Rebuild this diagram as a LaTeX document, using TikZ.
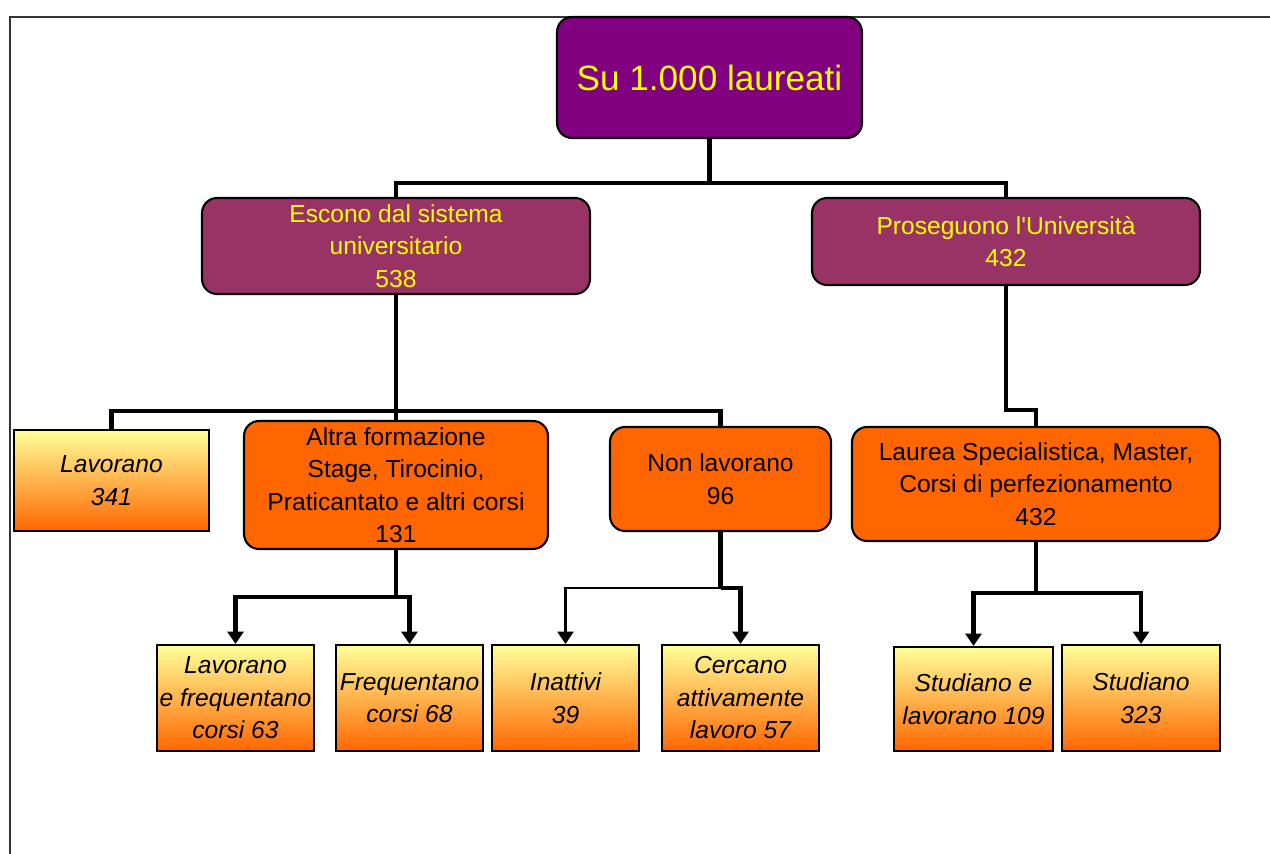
\documentclass[tikz,border=0pt]{standalone}
\usepackage{fontspec}
\setmainfont{Liberation Sans}
\usetikzlibrary{arrows.meta}
\definecolor{rootpurple}{HTML}{800080}
\definecolor{branchrose}{HTML}{993366}
\definecolor{boxorange}{HTML}{FF6600}
\definecolor{paleyellow}{HTML}{FFFF99}
\definecolor{txtyellow}{HTML}{FFFF00}
\tikzset{
  rootbox/.style={draw, line width=1.2pt, rounded corners=0.3cm, fill=rootpurple,
    text=txtyellow, font=\fontsize{20}{24}\selectfont, align=center, inner sep=0pt},
  branchbox/.style={draw, line width=1.2pt, rounded corners=0.3cm, fill=branchrose,
    text=txtyellow, font=\fontsize{14}{18.5}\selectfont, align=center, inner sep=0pt},
  orangebox/.style={draw, line width=1.2pt, rounded corners=0.3cm, fill=boxorange,
    text=black, font=\fontsize{14}{18.5}\selectfont, align=center, inner sep=0pt},
  leafbox/.style={draw, line width=1.2pt, top color=paleyellow, bottom color=boxorange,
    font=\itshape\fontsize{14}{18.5}\selectfont, align=center, inner sep=0pt},
  conn/.style={line width=2.8pt},
  thinconn/.style={line width=1.6pt},
  arr/.style={-{Triangle[width=9pt,length=7pt]}}
}
\begin{document}
\begin{tikzpicture}[x=0.02cm, y=-0.02cm]
\useasboundingbox (0,0) rectangle (1270,854);
\draw[line width=0.9pt, black!80] (10,854)--(10,17)--(1270,17);
% boxes
\node[rootbox, minimum width=6.1cm, minimum height=2.42cm] (root) at (709.5,77.5) {Su 1.000 laureati};
\node[branchbox, minimum width=7.76cm, minimum height=1.92cm] (esc) at (396,246) {Escono dal sistema\\universitario\\538};
\node[branchbox, minimum width=7.76cm, minimum height=1.74cm] (pros) at (1006,241.5) {Proseguono l\textquotesingle Università\\432};
\node[leafbox, minimum width=3.9cm, minimum height=2.02cm] (lav) at (111.5,480.5) {Lavorano\\341};
\node[orangebox, minimum width=6.08cm, minimum height=2.56cm] (altra) at (396,485) {Altra formazione\\Stage, Tirocinio,\\Praticantato e altri corsi\\131};
\node[orangebox, minimum width=4.42cm, minimum height=2.08cm] (nonlav) at (720.5,479) {Non lavorano\\96};
\node[orangebox, minimum width=7.36cm, minimum height=2.28cm] (laurea) at (1036,484) {Laurea Specialistica, Master,\\Corsi di perfezionamento\\432};
\node[leafbox, minimum width=3.14cm, minimum height=2.12cm] (lavfreq) at (235.5,698) {Lavorano\\e frequentano\\corsi 63};
\node[leafbox, minimum width=2.94cm, minimum height=2.12cm] (freq) at (409.5,698) {Frequentano\\corsi 68};
\node[leafbox, minimum width=2.94cm, minimum height=2.12cm] (inatt) at (565.5,698) {Inattivi\\39};
\node[leafbox, minimum width=3.14cm, minimum height=2.12cm] (cerc) at (740.5,698) {Cercano\\attivamente\\lavoro 57};
\node[leafbox, minimum width=3.18cm, minimum height=2.08cm] (stlav) at (973.5,699) {Studiano e\\lavorano 109};
\node[leafbox, minimum width=3.16cm, minimum height=2.12cm] (stud) at (1141,698) {Studiano\\323};
% junctions
\coordinate (j1) at (709.5,183);
\coordinate (j2) at (396,411);
\coordinate (j3) at (1006,410);
\coordinate (j4) at (396,597);
\coordinate (j5) at (720.5,588);
\coordinate (j6) at (1036,593);
% connectors
\draw[conn] (root.south)--(j1) -| (esc.north);
\draw[conn] (j1) -| (pros.north);
\draw[conn] (esc.south)--(altra.north);
\draw[conn] (j2) -| (lav.north);
\draw[conn] (j2) -| (nonlav.north);
\draw[conn] (pros.south)--(j3) -| (laurea.north);
\draw[conn] (altra.south)--(j4);
\draw[conn, arr] (j4) -| (lavfreq.north);
\draw[conn, arr] (j4) -| (freq.north);
\draw[conn] (nonlav.south)--(j5);
\draw[thinconn, arr] (j5) -| (inatt.north);
\draw[conn, arr] (j5) -| (cerc.north);
\draw[conn] (laurea.south)--(j6);
\draw[conn, arr] (j6) -| (stlav.north);
\draw[conn, arr] (j6) -| (stud.north);
\end{tikzpicture}
\end{document}
